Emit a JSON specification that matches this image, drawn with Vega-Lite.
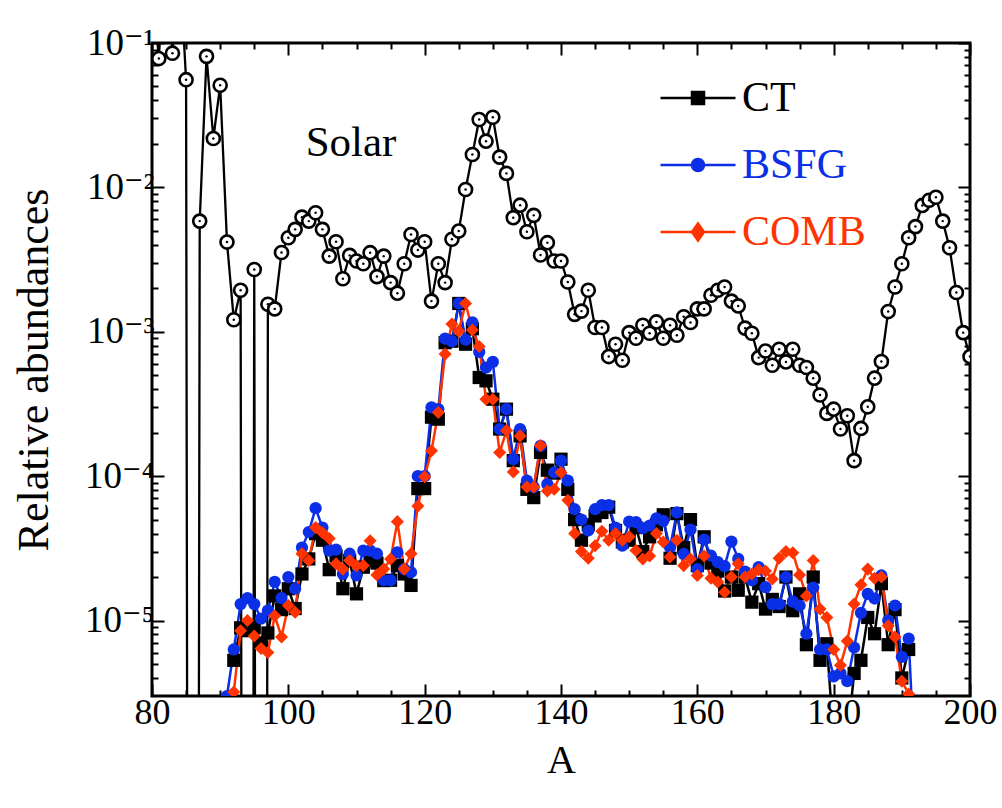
{
  "$schema": "https://vega.github.io/schema/vega-lite/v6.json",
  "width": 818,
  "height": 653,
  "autosize": {"type": "none"},
  "padding": {"left": 152, "top": 43, "right": 32, "bottom": 112},
  "background": "white",
  "config": {
    "view": {"stroke": "black", "strokeWidth": 3},
    "font": "Liberation Serif, Times New Roman, DejaVu Serif, serif",
    "axis": {"grid": false, "domain": false, "labelFont": "Liberation Serif, Times New Roman, DejaVu Serif, serif", "titleFont": "Liberation Serif, Times New Roman, DejaVu Serif, serif", "labelColor": "black", "titleColor": "black", "tickColor": "black", "tickWidth": 2, "titleFontWeight": "normal", "labelFlush": false, "labelOverlap": false}
  },
  "datasets": {
    "solar": [
      {"A": 80, "value": 0.3}, {"A": 81, "value": 0.078}, {"A": 82, "value": 0.5}, {"A": 83, "value": 0.085}, {"A": 84, "value": 0.4},
      {"A": 85, "value": 0.0557}, {"A": 86, "value": 1e-30}, {"A": 87, "value": 0.00584}, {"A": 88, "value": 0.0808}, {"A": 89, "value": 0.0218},
      {"A": 90, "value": 0.051}, {"A": 91, "value": 0.00418}, {"A": 92, "value": 0.00121}, {"A": 93, "value": 0.00194}, {"A": 94, "value": 1e-30},
      {"A": 95, "value": 0.0027}, {"A": 96, "value": 1e-30}, {"A": 97, "value": 0.00155}, {"A": 98, "value": 0.00144}, {"A": 99, "value": 0.00354},
      {"A": 100, "value": 0.00448}, {"A": 101, "value": 0.00512}, {"A": 102, "value": 0.00622}, {"A": 103, "value": 0.00584}, {"A": 104, "value": 0.00667},
      {"A": 105, "value": 0.00512}, {"A": 106, "value": 0.00334}, {"A": 107, "value": 0.0042}, {"A": 108, "value": 0.00233}, {"A": 109, "value": 0.00338},
      {"A": 110, "value": 0.00309}, {"A": 111, "value": 0.00296}, {"A": 112, "value": 0.00353}, {"A": 113, "value": 0.00241}, {"A": 114, "value": 0.00334},
      {"A": 115, "value": 0.00219}, {"A": 116, "value": 0.00185}, {"A": 117, "value": 0.00296}, {"A": 118, "value": 0.00472}, {"A": 119, "value": 0.00368},
      {"A": 120, "value": 0.0042}, {"A": 121, "value": 0.00163}, {"A": 122, "value": 0.00296}, {"A": 123, "value": 0.00219}, {"A": 124, "value": 0.00437},
      {"A": 125, "value": 0.00498}, {"A": 126, "value": 0.00966}, {"A": 127, "value": 0.0169}, {"A": 128, "value": 0.0295}, {"A": 129, "value": 0.0209},
      {"A": 130, "value": 0.0306}, {"A": 131, "value": 0.0162}, {"A": 132, "value": 0.0125}, {"A": 133, "value": 0.00617}, {"A": 134, "value": 0.00753},
      {"A": 135, "value": 0.00493}, {"A": 136, "value": 0.0064}, {"A": 137, "value": 0.0034}, {"A": 138, "value": 0.00414}, {"A": 139, "value": 0.00309},
      {"A": 140, "value": 0.00309}, {"A": 141, "value": 0.00221}, {"A": 142, "value": 0.00132}, {"A": 143, "value": 0.00139}, {"A": 144, "value": 0.00194},
      {"A": 145, "value": 0.00107}, {"A": 146, "value": 0.00107}, {"A": 147, "value": 0.000673}, {"A": 148, "value": 0.000819}, {"A": 149, "value": 0.000635},
      {"A": 150, "value": 0.000986}, {"A": 151, "value": 0.000902}, {"A": 152, "value": 0.00111}, {"A": 153, "value": 0.000977}, {"A": 154, "value": 0.00117},
      {"A": 155, "value": 0.000902}, {"A": 156, "value": 0.00111}, {"A": 157, "value": 0.000946}, {"A": 158, "value": 0.00127}, {"A": 159, "value": 0.00116},
      {"A": 160, "value": 0.00144}, {"A": 161, "value": 0.00144}, {"A": 162, "value": 0.00179}, {"A": 163, "value": 0.00194}, {"A": 164, "value": 0.00204},
      {"A": 165, "value": 0.00163}, {"A": 166, "value": 0.00151}, {"A": 167, "value": 0.00106}, {"A": 168, "value": 0.000977}, {"A": 169, "value": 0.000662},
      {"A": 170, "value": 0.000736}, {"A": 171, "value": 0.000586}, {"A": 172, "value": 0.000757}, {"A": 173, "value": 0.000618}, {"A": 174, "value": 0.000757},
      {"A": 175, "value": 0.000586}, {"A": 176, "value": 0.000565}, {"A": 177, "value": 0.000477}, {"A": 178, "value": 0.000365}, {"A": 179, "value": 0.000272},
      {"A": 180, "value": 0.000291}, {"A": 181, "value": 0.000212}, {"A": 182, "value": 0.000262}, {"A": 183, "value": 0.000128}, {"A": 184, "value": 0.000214},
      {"A": 185, "value": 0.000302}, {"A": 186, "value": 0.000477}, {"A": 187, "value": 0.000622}, {"A": 188, "value": 0.00138}, {"A": 189, "value": 0.00204},
      {"A": 190, "value": 0.00296}, {"A": 191, "value": 0.00448}, {"A": 192, "value": 0.00535}, {"A": 193, "value": 0.0075}, {"A": 194, "value": 0.00815},
      {"A": 195, "value": 0.00855}, {"A": 196, "value": 0.00584}, {"A": 197, "value": 0.00382}, {"A": 198, "value": 0.00187}, {"A": 199, "value": 0.000986},
      {"A": 200, "value": 0.000673}
    ],
    "models": [
      {"model": "CT", "A": 92, "value": 5.3e-6}, {"model": "CT", "A": 93, "value": 8.9e-6}, {"model": "CT", "A": 94, "value": 8.5e-6}, {"model": "CT", "A": 95, "value": 8.9e-6},
      {"model": "CT", "A": 96, "value": 7.0e-6}, {"model": "CT", "A": 97, "value": 8.2e-6}, {"model": "CT", "A": 98, "value": 1.48e-5}, {"model": "CT", "A": 99, "value": 1.19e-5},
      {"model": "CT", "A": 100, "value": 1.66e-5}, {"model": "CT", "A": 101, "value": 1.21e-5}, {"model": "CT", "A": 102, "value": 2.1e-5}, {"model": "CT", "A": 103, "value": 2.67e-5},
      {"model": "CT", "A": 104, "value": 4.0e-5}, {"model": "CT", "A": 105, "value": 3.6e-5}, {"model": "CT", "A": 106, "value": 2.25e-5}, {"model": "CT", "A": 107, "value": 2.8e-5},
      {"model": "CT", "A": 108, "value": 1.66e-5}, {"model": "CT", "A": 109, "value": 2.6e-5}, {"model": "CT", "A": 110, "value": 1.53e-5}, {"model": "CT", "A": 111, "value": 2.34e-5},
      {"model": "CT", "A": 112, "value": 2.6e-5}, {"model": "CT", "A": 113, "value": 2.5e-5}, {"model": "CT", "A": 114, "value": 1.89e-5}, {"model": "CT", "A": 115, "value": 1.9e-5},
      {"model": "CT", "A": 116, "value": 2.4e-5}, {"model": "CT", "A": 117, "value": 2.1e-5}, {"model": "CT", "A": 118, "value": 1.75e-5}, {"model": "CT", "A": 119, "value": 8.2e-5},
      {"model": "CT", "A": 120, "value": 8.2e-5}, {"model": "CT", "A": 121, "value": 2.56e-4}, {"model": "CT", "A": 122, "value": 2.48e-4}, {"model": "CT", "A": 123, "value": 8.4e-4},
      {"model": "CT", "A": 124, "value": 8.6e-4}, {"model": "CT", "A": 125, "value": 1.57e-3}, {"model": "CT", "A": 126, "value": 8.2e-4}, {"model": "CT", "A": 127, "value": 1.05e-3},
      {"model": "CT", "A": 128, "value": 4.82e-4}, {"model": "CT", "A": 129, "value": 4.57e-4}, {"model": "CT", "A": 130, "value": 3.41e-4}, {"model": "CT", "A": 131, "value": 2.12e-4},
      {"model": "CT", "A": 132, "value": 2.91e-4}, {"model": "CT", "A": 133, "value": 1.28e-4}, {"model": "CT", "A": 134, "value": 1.9e-4}, {"model": "CT", "A": 135, "value": 8.1e-5},
      {"model": "CT", "A": 136, "value": 7.1e-5}, {"model": "CT", "A": 137, "value": 1.46e-4}, {"model": "CT", "A": 138, "value": 1.1e-4}, {"model": "CT", "A": 139, "value": 1.05e-4},
      {"model": "CT", "A": 140, "value": 1.31e-4}, {"model": "CT", "A": 141, "value": 8.1e-5}, {"model": "CT", "A": 142, "value": 5.0e-5}, {"model": "CT", "A": 143, "value": 3.6e-5},
      {"model": "CT", "A": 144, "value": 4.6e-5}, {"model": "CT", "A": 145, "value": 5.3e-5}, {"model": "CT", "A": 146, "value": 5.6e-5}, {"model": "CT", "A": 147, "value": 6.1e-5},
      {"model": "CT", "A": 148, "value": 4.2e-5}, {"model": "CT", "A": 149, "value": 3.5e-5}, {"model": "CT", "A": 150, "value": 3.6e-5}, {"model": "CT", "A": 151, "value": 4.4e-5},
      {"model": "CT", "A": 152, "value": 3.0e-5}, {"model": "CT", "A": 153, "value": 3.8e-5}, {"model": "CT", "A": 154, "value": 4.6e-5}, {"model": "CT", "A": 155, "value": 5.4e-5},
      {"model": "CT", "A": 156, "value": 2.7e-5}, {"model": "CT", "A": 157, "value": 5.5e-5}, {"model": "CT", "A": 158, "value": 3.2e-5}, {"model": "CT", "A": 159, "value": 5.0e-5},
      {"model": "CT", "A": 160, "value": 2.4e-5}, {"model": "CT", "A": 161, "value": 3.8e-5}, {"model": "CT", "A": 162, "value": 2.5e-5}, {"model": "CT", "A": 163, "value": 2.2e-5},
      {"model": "CT", "A": 164, "value": 1.6e-5}, {"model": "CT", "A": 165, "value": 2.0e-5}, {"model": "CT", "A": 166, "value": 1.62e-5}, {"model": "CT", "A": 167, "value": 2.0e-5},
      {"model": "CT", "A": 168, "value": 1.34e-5}, {"model": "CT", "A": 169, "value": 1.8e-5}, {"model": "CT", "A": 170, "value": 1.2e-5}, {"model": "CT", "A": 171, "value": 1.4e-5},
      {"model": "CT", "A": 172, "value": 1.25e-5}, {"model": "CT", "A": 173, "value": 2.0e-5}, {"model": "CT", "A": 174, "value": 1.17e-5}, {"model": "CT", "A": 175, "value": 1.53e-5},
      {"model": "CT", "A": 176, "value": 6.8e-6}, {"model": "CT", "A": 177, "value": 2.0e-5}, {"model": "CT", "A": 178, "value": 5.3e-6}, {"model": "CT", "A": 179, "value": 6.9e-6},
      {"model": "CT", "A": 180, "value": 1.5e-6}, {"model": "CT", "A": 181, "value": 1.2e-6}, {"model": "CT", "A": 182, "value": 1.5e-6}, {"model": "CT", "A": 183, "value": 4.3e-6},
      {"model": "CT", "A": 184, "value": 5.3e-6}, {"model": "CT", "A": 185, "value": 1.05e-5}, {"model": "CT", "A": 186, "value": 8.1e-6}, {"model": "CT", "A": 187, "value": 1.8e-5},
      {"model": "CT", "A": 188, "value": 6.8e-6}, {"model": "CT", "A": 189, "value": 1.19e-5}, {"model": "CT", "A": 190, "value": 4.0e-6}, {"model": "CT", "A": 191, "value": 6.3e-6},

      {"model": "BSFG", "A": 91, "value": 3.0e-6}, {"model": "BSFG", "A": 92, "value": 6.3e-6}, {"model": "BSFG", "A": 93, "value": 1.3e-5}, {"model": "BSFG", "A": 94, "value": 1.43e-5},
      {"model": "BSFG", "A": 95, "value": 1.3e-5}, {"model": "BSFG", "A": 96, "value": 1.03e-5}, {"model": "BSFG", "A": 97, "value": 1.17e-5}, {"model": "BSFG", "A": 98, "value": 1.85e-5},
      {"model": "BSFG", "A": 99, "value": 1.43e-5}, {"model": "BSFG", "A": 100, "value": 2.0e-5}, {"model": "BSFG", "A": 101, "value": 1.66e-5}, {"model": "BSFG", "A": 102, "value": 3.2e-5},
      {"model": "BSFG", "A": 103, "value": 4.1e-5}, {"model": "BSFG", "A": 104, "value": 6.0e-5}, {"model": "BSFG", "A": 105, "value": 4.4e-5}, {"model": "BSFG", "A": 106, "value": 3.05e-5},
      {"model": "BSFG", "A": 107, "value": 3.1e-5}, {"model": "BSFG", "A": 108, "value": 2.1e-5}, {"model": "BSFG", "A": 109, "value": 2.9e-5}, {"model": "BSFG", "A": 110, "value": 2.05e-5},
      {"model": "BSFG", "A": 111, "value": 3.05e-5}, {"model": "BSFG", "A": 112, "value": 3.05e-5}, {"model": "BSFG", "A": 113, "value": 2.9e-5}, {"model": "BSFG", "A": 114, "value": 1.9e-5},
      {"model": "BSFG", "A": 115, "value": 1.9e-5}, {"model": "BSFG", "A": 116, "value": 2.97e-5}, {"model": "BSFG", "A": 117, "value": 2.27e-5}, {"model": "BSFG", "A": 118, "value": 2.16e-5},
      {"model": "BSFG", "A": 119, "value": 1.0e-4}, {"model": "BSFG", "A": 120, "value": 1.0e-4}, {"model": "BSFG", "A": 121, "value": 2.99e-4}, {"model": "BSFG", "A": 122, "value": 2.91e-4},
      {"model": "BSFG", "A": 123, "value": 8.97e-4}, {"model": "BSFG", "A": 124, "value": 8.6e-4}, {"model": "BSFG", "A": 125, "value": 1.57e-3}, {"model": "BSFG", "A": 126, "value": 8.8e-4},
      {"model": "BSFG", "A": 127, "value": 1.16e-3}, {"model": "BSFG", "A": 128, "value": 7.25e-4}, {"model": "BSFG", "A": 129, "value": 5.65e-4}, {"model": "BSFG", "A": 130, "value": 6.18e-4},
      {"model": "BSFG", "A": 131, "value": 2.12e-4}, {"model": "BSFG", "A": 132, "value": 2.91e-4}, {"model": "BSFG", "A": 133, "value": 1.31e-4}, {"model": "BSFG", "A": 134, "value": 2.12e-4},
      {"model": "BSFG", "A": 135, "value": 9.3e-5}, {"model": "BSFG", "A": 136, "value": 8.4e-5}, {"model": "BSFG", "A": 137, "value": 1.62e-4}, {"model": "BSFG", "A": 138, "value": 8.8e-5},
      {"model": "BSFG", "A": 139, "value": 1.06e-4}, {"model": "BSFG", "A": 140, "value": 1.28e-4}, {"model": "BSFG", "A": 141, "value": 9.3e-5}, {"model": "BSFG", "A": 142, "value": 5.9e-5},
      {"model": "BSFG", "A": 143, "value": 5.0e-5}, {"model": "BSFG", "A": 144, "value": 4.2e-5}, {"model": "BSFG", "A": 145, "value": 5.9e-5}, {"model": "BSFG", "A": 146, "value": 6.3e-5},
      {"model": "BSFG", "A": 147, "value": 6.3e-5}, {"model": "BSFG", "A": 148, "value": 4.4e-5}, {"model": "BSFG", "A": 149, "value": 3.3e-5}, {"model": "BSFG", "A": 150, "value": 4.84e-5},
      {"model": "BSFG", "A": 151, "value": 4.8e-5}, {"model": "BSFG", "A": 152, "value": 4.36e-5}, {"model": "BSFG", "A": 153, "value": 4.55e-5}, {"model": "BSFG", "A": 154, "value": 5.1e-5},
      {"model": "BSFG", "A": 155, "value": 4.9e-5}, {"model": "BSFG", "A": 156, "value": 3.22e-5}, {"model": "BSFG", "A": 157, "value": 5.6e-5}, {"model": "BSFG", "A": 158, "value": 2.89e-5},
      {"model": "BSFG", "A": 159, "value": 4.26e-5}, {"model": "BSFG", "A": 160, "value": 2.27e-5}, {"model": "BSFG", "A": 161, "value": 3.63e-5}, {"model": "BSFG", "A": 162, "value": 2.81e-5},
      {"model": "BSFG", "A": 163, "value": 2.54e-5}, {"model": "BSFG", "A": 164, "value": 2.38e-5}, {"model": "BSFG", "A": 165, "value": 3.52e-5}, {"model": "BSFG", "A": 166, "value": 2.67e-5},
      {"model": "BSFG", "A": 167, "value": 2.18e-5}, {"model": "BSFG", "A": 168, "value": 1.9e-5}, {"model": "BSFG", "A": 169, "value": 2.34e-5}, {"model": "BSFG", "A": 170, "value": 1.7e-5},
      {"model": "BSFG", "A": 171, "value": 1.3e-5}, {"model": "BSFG", "A": 172, "value": 1.3e-5}, {"model": "BSFG", "A": 173, "value": 2.0e-5}, {"model": "BSFG", "A": 174, "value": 1.35e-5},
      {"model": "BSFG", "A": 175, "value": 1.27e-5}, {"model": "BSFG", "A": 176, "value": 8.1e-6}, {"model": "BSFG", "A": 177, "value": 1.69e-5}, {"model": "BSFG", "A": 178, "value": 6.3e-6},
      {"model": "BSFG", "A": 179, "value": 6.3e-6}, {"model": "BSFG", "A": 180, "value": 4.1e-6}, {"model": "BSFG", "A": 181, "value": 4.3e-6}, {"model": "BSFG", "A": 182, "value": 3.8e-6},
      {"model": "BSFG", "A": 183, "value": 6.5e-6}, {"model": "BSFG", "A": 184, "value": 1.13e-5}, {"model": "BSFG", "A": 185, "value": 1.53e-5}, {"model": "BSFG", "A": 186, "value": 1.42e-5},
      {"model": "BSFG", "A": 187, "value": 2.05e-5}, {"model": "BSFG", "A": 188, "value": 1.0e-5}, {"model": "BSFG", "A": 189, "value": 1.27e-5}, {"model": "BSFG", "A": 190, "value": 5.6e-6},
      {"model": "BSFG", "A": 191, "value": 7.5e-6}, {"model": "BSFG", "A": 192, "value": 8e-7},

      {"model": "COMB", "A": 92, "value": 3.2e-6}, {"model": "COMB", "A": 93, "value": 8.5e-6}, {"model": "COMB", "A": 94, "value": 1.0e-5}, {"model": "COMB", "A": 95, "value": 7.8e-6},
      {"model": "COMB", "A": 96, "value": 6.4e-6}, {"model": "COMB", "A": 97, "value": 6.0e-6}, {"model": "COMB", "A": 98, "value": 1.08e-5}, {"model": "COMB", "A": 99, "value": 7.7e-6},
      {"model": "COMB", "A": 100, "value": 1.27e-5}, {"model": "COMB", "A": 101, "value": 1.14e-5}, {"model": "COMB", "A": 102, "value": 2.9e-5}, {"model": "COMB", "A": 103, "value": 2.6e-5},
      {"model": "COMB", "A": 104, "value": 4.4e-5}, {"model": "COMB", "A": 105, "value": 4.05e-5}, {"model": "COMB", "A": 106, "value": 3.7e-5}, {"model": "COMB", "A": 107, "value": 2.47e-5},
      {"model": "COMB", "A": 108, "value": 2.27e-5}, {"model": "COMB", "A": 109, "value": 2.6e-5}, {"model": "COMB", "A": 110, "value": 2.4e-5}, {"model": "COMB", "A": 111, "value": 2.4e-5},
      {"model": "COMB", "A": 112, "value": 3.57e-5}, {"model": "COMB", "A": 113, "value": 2.07e-5}, {"model": "COMB", "A": 114, "value": 2.27e-5}, {"model": "COMB", "A": 115, "value": 2.67e-5},
      {"model": "COMB", "A": 116, "value": 4.84e-5}, {"model": "COMB", "A": 117, "value": 2.27e-5}, {"model": "COMB", "A": 118, "value": 2.9e-5}, {"model": "COMB", "A": 119, "value": 6.2e-5},
      {"model": "COMB", "A": 120, "value": 9.9e-5}, {"model": "COMB", "A": 121, "value": 1.5e-4}, {"model": "COMB", "A": 122, "value": 2.76e-4}, {"model": "COMB", "A": 123, "value": 7.0e-4},
      {"model": "COMB", "A": 124, "value": 1.13e-3}, {"model": "COMB", "A": 125, "value": 1.01e-3}, {"model": "COMB", "A": 126, "value": 1.57e-3}, {"model": "COMB", "A": 127, "value": 1.03e-3},
      {"model": "COMB", "A": 128, "value": 7.9e-4}, {"model": "COMB", "A": 129, "value": 3.41e-4}, {"model": "COMB", "A": 130, "value": 3.41e-4}, {"model": "COMB", "A": 131, "value": 1.46e-4},
      {"model": "COMB", "A": 132, "value": 2.07e-4}, {"model": "COMB", "A": 133, "value": 1.07e-4}, {"model": "COMB", "A": 134, "value": 1.9e-4}, {"model": "COMB", "A": 135, "value": 8.4e-5},
      {"model": "COMB", "A": 136, "value": 8.4e-5}, {"model": "COMB", "A": 137, "value": 1.63e-4}, {"model": "COMB", "A": 138, "value": 7.9e-5}, {"model": "COMB", "A": 139, "value": 8.1e-5},
      {"model": "COMB", "A": 140, "value": 1.06e-4}, {"model": "COMB", "A": 141, "value": 6.8e-5}, {"model": "COMB", "A": 142, "value": 4.0e-5}, {"model": "COMB", "A": 143, "value": 3.0e-5},
      {"model": "COMB", "A": 144, "value": 2.7e-5}, {"model": "COMB", "A": 145, "value": 3.3e-5}, {"model": "COMB", "A": 146, "value": 4.15e-5}, {"model": "COMB", "A": 147, "value": 3.6e-5},
      {"model": "COMB", "A": 148, "value": 4.0e-5}, {"model": "COMB", "A": 149, "value": 3.6e-5}, {"model": "COMB", "A": 150, "value": 3.8e-5}, {"model": "COMB", "A": 151, "value": 3.05e-5},
      {"model": "COMB", "A": 152, "value": 2.67e-5}, {"model": "COMB", "A": 153, "value": 2.8e-5}, {"model": "COMB", "A": 154, "value": 4.0e-5}, {"model": "COMB", "A": 155, "value": 3.5e-5},
      {"model": "COMB", "A": 156, "value": 2.75e-5}, {"model": "COMB", "A": 157, "value": 3.6e-5}, {"model": "COMB", "A": 158, "value": 2.4e-5}, {"model": "COMB", "A": 159, "value": 2.67e-5},
      {"model": "COMB", "A": 160, "value": 2.05e-5}, {"model": "COMB", "A": 161, "value": 2.8e-5}, {"model": "COMB", "A": 162, "value": 1.96e-5}, {"model": "COMB", "A": 163, "value": 1.85e-5},
      {"model": "COMB", "A": 164, "value": 1.57e-5}, {"model": "COMB", "A": 165, "value": 2.0e-5}, {"model": "COMB", "A": 166, "value": 2.47e-5}, {"model": "COMB", "A": 167, "value": 2.0e-5},
      {"model": "COMB", "A": 168, "value": 2.1e-5}, {"model": "COMB", "A": 169, "value": 2.25e-5}, {"model": "COMB", "A": 170, "value": 2.2e-5}, {"model": "COMB", "A": 171, "value": 1.94e-5},
      {"model": "COMB", "A": 172, "value": 2.7e-5}, {"model": "COMB", "A": 173, "value": 3.0e-5}, {"model": "COMB", "A": 174, "value": 2.95e-5}, {"model": "COMB", "A": 175, "value": 2.07e-5},
      {"model": "COMB", "A": 176, "value": 1.48e-5}, {"model": "COMB", "A": 177, "value": 2.6e-5}, {"model": "COMB", "A": 178, "value": 1.2e-5}, {"model": "COMB", "A": 179, "value": 1.05e-5},
      {"model": "COMB", "A": 180, "value": 6.3e-6}, {"model": "COMB", "A": 181, "value": 4.9e-6}, {"model": "COMB", "A": 182, "value": 7.2e-6}, {"model": "COMB", "A": 183, "value": 1.3e-5},
      {"model": "COMB", "A": 184, "value": 1.77e-5}, {"model": "COMB", "A": 185, "value": 2.27e-5}, {"model": "COMB", "A": 186, "value": 1.96e-5}, {"model": "COMB", "A": 187, "value": 2.0e-5},
      {"model": "COMB", "A": 188, "value": 9.2e-6}, {"model": "COMB", "A": 189, "value": 7.7e-6}, {"model": "COMB", "A": 190, "value": 3.8e-6}, {"model": "COMB", "A": 191, "value": 3.1e-6}
    ],
    "notes": [{"A": 109.2, "value": 0.0164, "label": "Solar"}]
  },
  "layer": [
    {
      "data": {"name": "solar"},
      "mark": {"type": "line", "color": "black", "strokeWidth": 2.3, "clip": true},
      "encoding": {
        "x": {"field": "A", "type": "quantitative", "scale": {"domain": [80, 200], "nice": false, "zero": false},
              "axis": {"orient": "bottom", "values": [80, 100, 120, 140, 160, 180, 200], "tickSize": -12, "labelFontSize": 36, "labelPadding": 11, "title": "A", "titleFontSize": 40, "titlePadding": 10}},
        "y": {"field": "value", "type": "quantitative", "scale": {"type": "log", "domain": [3e-6, 0.1], "nice": false},
              "axis": {"orient": "left", "values": [0.00001, 0.0001, 0.001, 0.01, 0.1], "tickSize": -12, "labelFontSize": 37, "labelPadding": 10,
                       "labelExpr": "datum.value > 0.05 ? '10⁻¹' : datum.value > 0.005 ? '10⁻²' : datum.value > 0.0005 ? '10⁻³' : datum.value > 0.00005 ? '10⁻⁴' : '10⁻⁵'",
                       "title": "Relative abundances", "titleFontSize": 44, "titlePadding": 28}}
      }
    },
    {
      "data": {"name": "solar"},
      "mark": {"type": "point", "shape": "circle", "filled": true, "fill": "white", "stroke": "black", "strokeWidth": 2.6, "size": 170, "clip": true, "opacity": 1},
      "encoding": {
        "x": {"field": "A", "type": "quantitative", "axis": {"orient": "top", "values": [80, 100, 120, 140, 160, 180, 200], "tickSize": -12, "labels": false, "title": null}},
        "y": {"field": "value", "type": "quantitative", "axis": {"orient": "right", "values": [0.00001, 0.0001, 0.001, 0.01, 0.1], "tickSize": -12, "labels": false, "title": null}}
      }
    },
    {
      "data": {"name": "solar"},
      "mark": {"type": "point", "shape": "circle", "filled": true, "color": "black", "size": 6, "clip": true, "opacity": 1},
      "encoding": {
        "x": {"field": "A", "type": "quantitative", "axis": {"orient": "bottom", "values": [85, 90, 95, 105, 110, 115, 125, 130, 135, 145, 150, 155, 165, 170, 175, 185, 190, 195], "tickSize": -6, "labels": false, "title": null}},
        "y": {"field": "value", "type": "quantitative", "axis": {"orient": "left", "values": [4e-6, 5e-6, 6e-6, 7e-6, 8e-6, 9e-6, 2e-5, 3e-5, 4e-5, 5e-5, 6e-5, 7e-5, 8e-5, 9e-5, 2e-4, 3e-4, 4e-4, 5e-4, 6e-4, 7e-4, 8e-4, 9e-4, 2e-3, 3e-3, 4e-3, 5e-3, 6e-3, 7e-3, 8e-3, 9e-3, 2e-2, 3e-2, 4e-2, 5e-2, 6e-2, 7e-2, 8e-2, 9e-2], "tickSize": -6, "labels": false, "title": null}}
      }
    },
    {
      "data": {"name": "models"},
      "mark": {"type": "line", "strokeWidth": 2.5, "clip": true},
      "encoding": {
        "x": {"field": "A", "type": "quantitative", "axis": {"orient": "top", "values": [85, 90, 95, 105, 110, 115, 125, 130, 135, 145, 150, 155, 165, 170, 175, 185, 190, 195], "tickSize": -6, "labels": false, "title": null}},
        "y": {"field": "value", "type": "quantitative", "axis": {"orient": "right", "values": [4e-6, 5e-6, 6e-6, 7e-6, 8e-6, 9e-6, 2e-5, 3e-5, 4e-5, 5e-5, 6e-5, 7e-5, 8e-5, 9e-5, 2e-4, 3e-4, 4e-4, 5e-4, 6e-4, 7e-4, 8e-4, 9e-4, 2e-3, 3e-3, 4e-3, 5e-3, 6e-3, 7e-3, 8e-3, 9e-3, 2e-2, 3e-2, 4e-2, 5e-2, 6e-2, 7e-2, 8e-2, 9e-2], "tickSize": -6, "labels": false, "title": null}},
        "color": {"field": "model", "type": "nominal", "scale": {"domain": ["CT", "BSFG", "COMB"], "range": ["#000000", "#0b2fe6", "#ff3300"]},
                  "legend": {"title": null, "orient": "none", "legendX": 525, "legendY": 34, "padding": 0,
                             "labelFont": "Liberation Serif, Times New Roman, DejaVu Serif, serif", "labelFontSize": 42, "labelOffset": 23, "rowPadding": 25,
                             "symbolSize": 400, "symbolStrokeWidth": 2.5,
                             "symbolType": "M-3.75,0H3.75M0.6,0A0.6,0.6,0,1,1,-0.6,0A0.6,0.6,0,1,1,0.6,0Z",
                             "encode": {
                               "symbols": {"update": {
                                 "shape": {"signal": "datum.value === 'CT' ? 'M-3.75,0H3.75M-0.6,-0.6H0.6V0.6H-0.6Z' : datum.value === 'BSFG' ? 'M-3.75,0H3.75M0.6,0A0.6,0.6,0,1,1,-0.6,0A0.6,0.6,0,1,1,0.6,0Z' : 'M-3.75,0H3.75M0,-0.85L0.6,0L0,0.85L-0.6,0Z'"},
                                 "fill": {"signal": "scale('color', datum.value)"},
                                 "stroke": {"signal": "scale('color', datum.value)"},
                                 "strokeWidth": {"value": 2.5}
                               }},
                               "labels": {"update": {
                                 "fill": {"signal": "scale('color', datum.value)"}
                               }}
                             }}},
        "order": {"field": "A", "type": "quantitative"}
      }
    },
    {
      "data": {"name": "models"},
      "transform": [{"filter": "datum.model === 'CT'"}],
      "mark": {"type": "point", "shape": "square", "filled": true, "size": 175, "clip": true, "opacity": 1},
      "encoding": {
        "x": {"field": "A", "type": "quantitative", "axis": null},
        "y": {"field": "value", "type": "quantitative", "axis": null},
        "color": {"field": "model", "type": "nominal"}
      }
    },
    {
      "data": {"name": "models"},
      "transform": [{"filter": "datum.model === 'BSFG'"}],
      "mark": {"type": "point", "shape": "circle", "filled": true, "size": 150, "clip": true, "opacity": 1},
      "encoding": {
        "x": {"field": "A", "type": "quantitative", "axis": null},
        "y": {"field": "value", "type": "quantitative", "axis": null},
        "color": {"field": "model", "type": "nominal"}
      }
    },
    {
      "data": {"name": "models"},
      "transform": [{"filter": "datum.model === 'COMB'"}],
      "mark": {"type": "point", "shape": "diamond", "filled": true, "size": 170, "clip": true, "opacity": 1},
      "encoding": {
        "x": {"field": "A", "type": "quantitative", "axis": null},
        "y": {"field": "value", "type": "quantitative", "axis": null},
        "color": {"field": "model", "type": "nominal"}
      }
    },
    {
      "data": {"name": "notes"},
      "mark": {"type": "text", "font": "Liberation Serif, Times New Roman, DejaVu Serif, serif", "fontSize": 43, "align": "center", "baseline": "alphabetic", "color": "black"},
      "encoding": {
        "x": {"field": "A", "type": "quantitative", "axis": null},
        "y": {"field": "value", "type": "quantitative", "axis": null},
        "text": {"field": "label"}
      }
    }
  ],
  "resolve": {"axis": {"x": "independent", "y": "independent"}}
}
